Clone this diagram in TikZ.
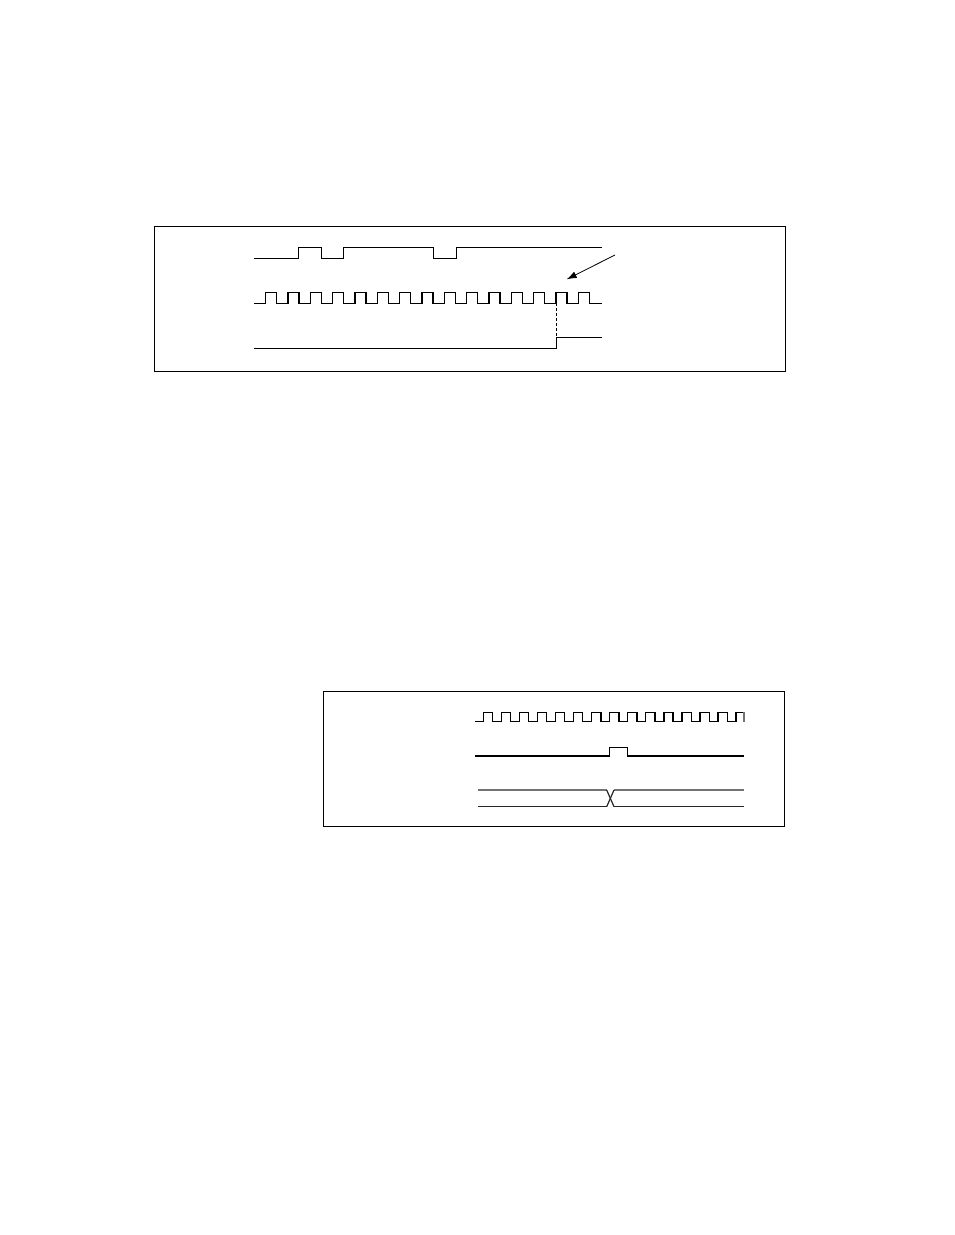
\documentclass[tikz,border=0pt]{standalone}
\usetikzlibrary{arrows.meta}
\begin{document}
\begin{tikzpicture}[x=1pt,y=-1pt,
  frame/.style={draw=black,line width=1.2pt},
  wave/.style={draw=black,line width=1.3pt,line join=miter},
  lightwave/.style={draw=black!55,line width=1.3pt},
  darkwave/.style={draw=black!85,line width=1.2pt},
  dashline/.style={draw=black,line width=1pt,dash pattern=on 3pt off 2pt},
  pointer/.style={draw=black,line width=0.8pt,-{Latex[length=10pt,width=7pt]}}]
\useasboundingbox (0,0) rectangle (954,1235);
% ---------- box 1 ----------
\draw[frame] (154.3,226.3) rectangle (785.3,371.7);
% upper signal
\draw[wave] (254.3,258.3) -- (298.5,258.3) -- (298.5,247.3) -- (321.2,247.3) -- (321.2,258.3)
  -- (343.5,258.3) -- (343.5,247.3) -- (433.3,247.3) -- (433.3,258.3) -- (456.2,258.3)
  -- (456.2,247.3) -- (601.7,247.3);
% clock
\draw[wave] (254.3,303.3)
  foreach \k in {0,...,14} { -- ({265.7+22.33*\k},303.3) -- ++(0,-11) -- ++(11,0) -- ++(0,11) }
  -- (601.7,303.3);
% lower signal
\coordinate (stepbot) at (556.6,348.3);
\coordinate (steptop) at (556.6,337.3);
\coordinate (clkedge) at (556.6,303.3);
\draw[wave] (254.3,348.3) -- (stepbot) -- (steptop) -- (601.7,337.3);
\draw[dashline] (clkedge) -- (steptop);
% arrow
\coordinate (arrowtail) at (615,255);
\coordinate (arrowtip) at (566.7,279.3);
\draw[pointer] (arrowtail) -- (arrowtip);
% ---------- box 2 ----------
\draw[frame] (323.3,691.5) rectangle (784.7,826.3);
% clock
\draw[wave] (475,721.7)
  foreach \k in {0,...,13} { -- ({483.3+18.06*\k},721.7) -- ++(0,-9.4) -- ++(9.2,0) -- ++(0,9.4) }
  -- (736.1,721.7) -- (736.1,712.3) -- (744,712.3);
\draw[lightwave] (744,712.3) -- (744,721.7);
% pulse
\draw[wave] (475,756) -- (609.3,756) -- (609.3,747.3) -- (627.3,747.3) -- (627.3,756) -- (744,756);
% bus
\draw[lightwave] (478.3,790) -- (606.7,790);
\draw[lightwave] (614,790) -- (744,790);
\draw[darkwave] (478.3,806.7) -- (606.7,806.7);
\draw[darkwave] (614,806.7) -- (744,806.7);
\draw[darkwave] (606.7,790) -- (614,806.7);
\draw[darkwave] (606.7,806.7) -- (614,790);
\end{tikzpicture}
\end{document}
